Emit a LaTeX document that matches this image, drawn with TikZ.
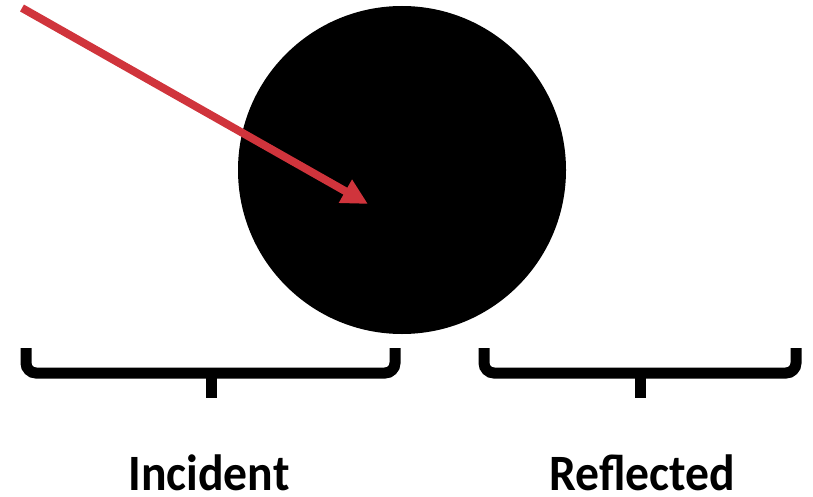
\documentclass[tikz,border=0pt]{standalone}
\usepackage{fontspec}
\setmainfont{Carlito}
\usepackage{xcolor}
\usepackage{tikz}
\usetikzlibrary{arrows.meta, positioning}

\definecolor{rayred}{RGB}{208,52,60}

\begin{document}
\begin{tikzpicture}[
      ball/.style = {circle, fill=black, draw=none, minimum size=6.56cm, inner sep=0pt},
      ray/.style = {draw=rayred, line width=4.5pt, -{Triangle[length=0.52cm, width=0.5cm]}},
      brace/.style = {line width=0.22cm, rounded corners=0.2cm},
      label/.style = {font=\bfseries\fontsize{29}{35}\selectfont, anchor=base,
        inner sep=0pt, xscale=0.935, transform shape}
    ]
      \useasboundingbox (0,0) rectangle (16.26,9.92);
      \node[ball] (ball) at (8.04,6.52) {};
      \coordinate (src) at (0.44,9.76);
      \coordinate (hit) at (7.36,5.84);
      \draw[ray] (src) -- (hit);

      % braces
      \draw[brace] (0.52,2.96) -- (0.52,2.46) -- (7.90,2.46) -- (7.90,2.96);
      \draw[line width=0.22cm] (4.22,2.50) -- (4.22,1.96);
      \draw[brace] (9.68,2.96) -- (9.68,2.46) -- (15.92,2.46) -- (15.92,2.96);
      \draw[line width=0.22cm] (12.80,2.50) -- (12.80,1.96);

      \node[label] (incident) at (4.18,0.12) {Incident};
      \node[label] (reflected) at (12.84,0.12) {Reflected};
    \end{tikzpicture}
\end{document}
